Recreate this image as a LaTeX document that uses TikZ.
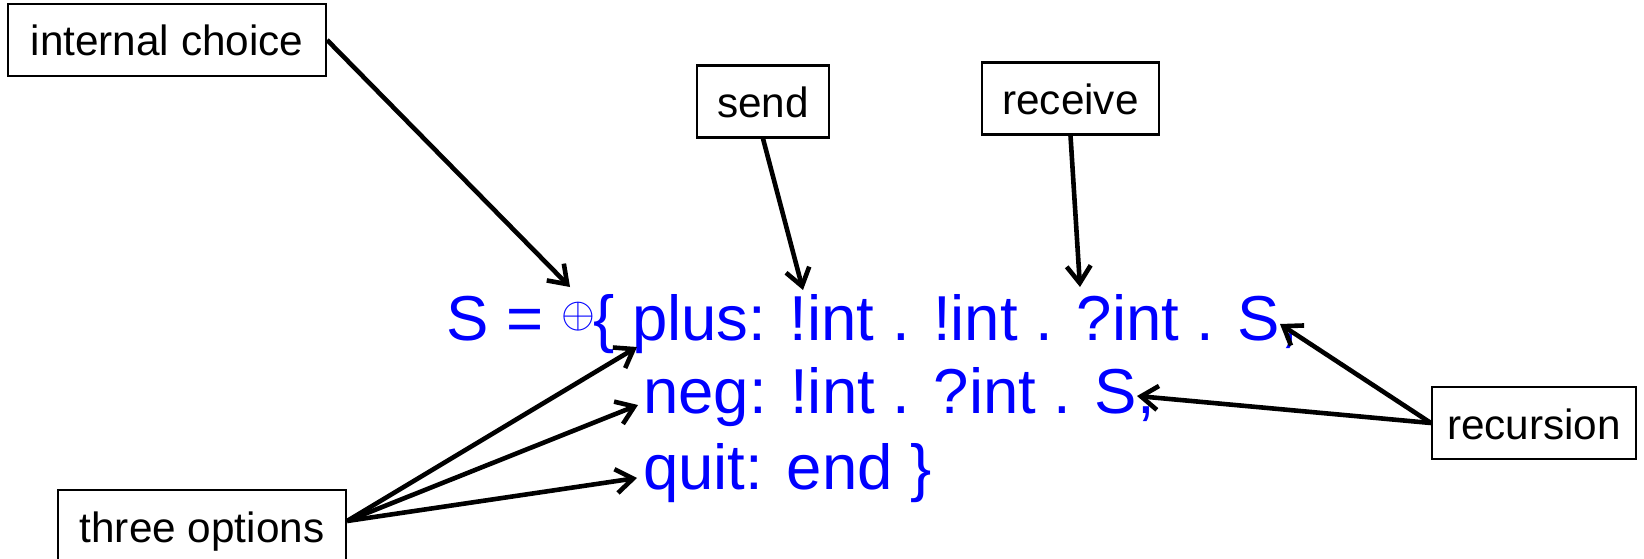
\documentclass[tikz,border=0pt]{standalone}
\usepackage{fontspec}
\usepackage{graphicx}
\setmainfont{Liberation Sans}
\usetikzlibrary{arrows.meta}
\definecolor{codeblue}{RGB}{0,0,255}

\begin{document}
\begin{tikzpicture}[x=1pt,y=-1pt,
  labelbox/.style={draw, line width=2.2pt, inner sep=0pt, minimum height=72pt,
    text height=34pt, text depth=2pt, text=black,
    font=\fontsize{42.3}{50}\selectfont},
  code/.style={inner sep=0pt, anchor=base west, text=codeblue,
    font=\fontsize{63.5}{75}\selectfont},
  pointer/.style={line width=4.6pt, line join=miter,
    -{Straight Barb[length=17pt,width=24pt]}},
]
\useasboundingbox (0,0) rectangle (1644,559);

% annotation boxes
\node[labelbox, minimum width=318pt] (choice) at (167,40)    {internal choice};
\node[labelbox, minimum width=132pt] (send)   at (763,101.5) {send};
\node[labelbox, minimum width=177pt] (recv)   at (1070.5,98.5) {receive};
\node[labelbox, minimum width=204pt] (rec)    at (1534,423)  {recursion};
\node[labelbox, minimum width=288pt] (three)  at (202,526)   {three options};

% the session type
\node[code] (lhs) at (446,340) {S =};
\node[inner sep=0pt, text=codeblue] (oplus) at (578.5,316.5) {\scalebox{4.35}{$\oplus$}};
\node[code] (plus) at (593,340) {\{ plus: !int . !int . ?int . S,};
\node[code] (neg)  at (643,413) {neg: !int . ?int . S,};
\node[code] (quit) at (643,489) {quit: end \}};

% arrow targets
\coordinate (choice tip) at (570,287);
\coordinate (send tip)   at (803,290);
\coordinate (recv tip)   at (1080,287);
\coordinate (rec tip a)  at (1280,324);
\coordinate (rec tip b)  at (1137,396);
\coordinate (opt tip a)  at (637,347);
\coordinate (opt tip b)  at (638,405);
\coordinate (opt tip c)  at (637,478);
\coordinate (opt root)   at ([yshift=5pt]three.east);

% connectors
\draw[pointer] (choice.east) -- (choice tip);
\draw[pointer] (send.south) -- (send tip);
\draw[pointer] (recv.south) -- (recv tip);
\draw[pointer] (rec.west) -- (rec tip a);
\draw[pointer] (rec.west) -- (rec tip b);
\draw[pointer] (opt root) -- (opt tip a);
\draw[pointer] (opt root) -- (opt tip b);
\draw[pointer] (opt root) -- (opt tip c);
\end{tikzpicture}
\end{document}
